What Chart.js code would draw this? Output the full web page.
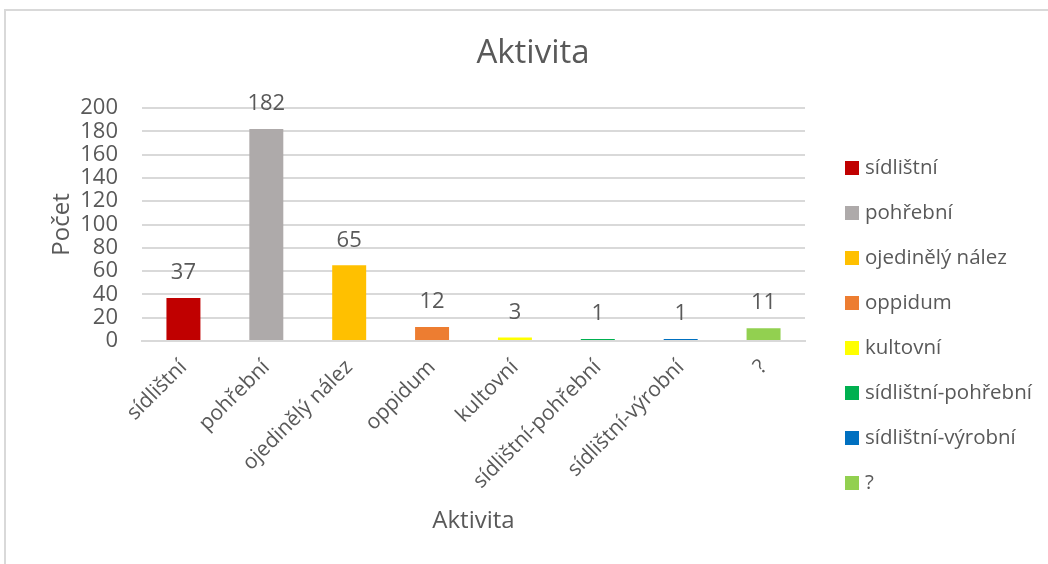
<!DOCTYPE html>
<html lang="cs">
<head>
<meta charset="utf-8">
<title>Aktivita</title>
<script src="https://cdn.jsdelivr.net/npm/chart.js@4.4.1/dist/chart.umd.min.js"></script>
<style>
  html, body { margin: 0; padding: 0; background: #fff; }
  #wrap { position: relative; width: 1048px; height: 564px; overflow: hidden; }
  #frame { position: absolute; left: 4px; top: 9px; width: 1100px; height: 620px;
           border: 2px solid #d9d9d9; box-sizing: border-box; }
  #chart { position: absolute; left: 0; top: 0; }
</style>
</head>
<body>
<div id="wrap">
  <div id="frame"></div>
  <canvas id="chart" width="1048" height="564"></canvas>
</div>
<script>
const categories = ['sídlištní', 'pohřební', 'ojedinělý nález', 'oppidum', 'kultovní',
                    'sídlištní-pohřební', 'sídlištní-výrobní', '?'];
const counts = [37, 182, 65, 12, 3, 1, 1, 11];
const barColors = ['#C00000', '#AEAAAA', '#FFC000', '#ED7D31', '#FFFF00',
                   '#00B050', '#0070C0', '#92D050'];
const yMax = 200;
const yStep = 20;

const textColor = '#595959';
const gridColor = '#d9d9d9';
const fontFamily = '"Open Sans", "Noto Sans", sans-serif';

// title, value labels above the bars and the legend on the right
const decor = {
    id: 'decor',
    afterDatasetsDraw(chart) {
        const ctx = chart.ctx;
        const meta = chart.getDatasetMeta(0);
        ctx.save();
        ctx.font = '22px ' + fontFamily;
        ctx.fillStyle = textColor;
        ctx.textAlign = 'center';
        ctx.textBaseline = 'middle';
        meta.data.forEach((bar, i) => {
            ctx.fillText(String(counts[i]), bar.x, bar.y - 25);
        });
        ctx.restore();
    },
    afterDraw(chart) {
        const ctx = chart.ctx;
        const area = chart.chartArea;
        ctx.save();
        ctx.fillStyle = textColor;
        ctx.textBaseline = 'middle';

        ctx.font = '33px ' + fontFamily;
        ctx.textAlign = 'center';
        ctx.fillText('Aktivita', chart.width / 2 + 9, 54);

        ctx.font = '20.5px ' + fontFamily;
        ctx.textAlign = 'left';
        const x0 = area.right + 40;
        categories.forEach((name, i) => {
            const y = 168 + i * 45;
            ctx.fillStyle = barColors[i];
            ctx.fillRect(x0, y - 7, 14, 14);
            ctx.fillStyle = textColor;
            ctx.fillText(name, x0 + 20, y);
        });
        ctx.restore();
    }
};

function initChart() {
    const ctx = document.getElementById('chart').getContext('2d');
    new Chart(ctx, {
        type: 'bar',
        data: {
            labels: categories,
            datasets: [{
                label: 'Počet',
                data: counts,
                backgroundColor: barColors,
                borderWidth: 0,
                minBarLength: 2,
                categoryPercentage: 1,
                barPercentage: 0.41
            }]
        },
        options: {
            responsive: false,
            animation: false,
            layout: { padding: { top: 108, right: 243, bottom: 0, left: 0 } },
            plugins: {
                legend: { display: false },
                tooltip: { enabled: false }
            },
            scales: {
                x: {
                    afterFit: (axis) => { axis.height = 223; },
                    grid: { display: false },
                    border: { display: true, color: gridColor, width: 2 },
                    ticks: {
                        autoSkip: false,
                        minRotation: 45,
                        maxRotation: 45,
                        padding: 6,
                        color: textColor,
                        font: { family: fontFamily, size: 21 }
                    },
                    title: {
                        display: true,
                        text: 'Aktivita',
                        color: textColor,
                        font: { family: fontFamily, size: 24 },
                        padding: { top: 0, bottom: 28 }
                    }
                },
                y: {
                    min: 0,
                    max: yMax,
                    afterFit: (axis) => { axis.width = 142; },
                    grid: { color: gridColor, lineWidth: 2, drawTicks: false },
                    border: { display: false },
                    ticks: {
                        stepSize: yStep,
                        autoSkip: false,
                        padding: 24,
                        color: textColor,
                        font: { family: fontFamily, size: 22 }
                    },
                    title: {
                        display: true,
                        text: 'Počet',
                        color: textColor,
                        font: { family: fontFamily, size: 24 },
                        padding: { top: 48, bottom: 0 }
                    }
                }
            }
        },
        plugins: [decor]
    });
}

document.addEventListener('DOMContentLoaded', initChart);
</script>
</body>
</html>
